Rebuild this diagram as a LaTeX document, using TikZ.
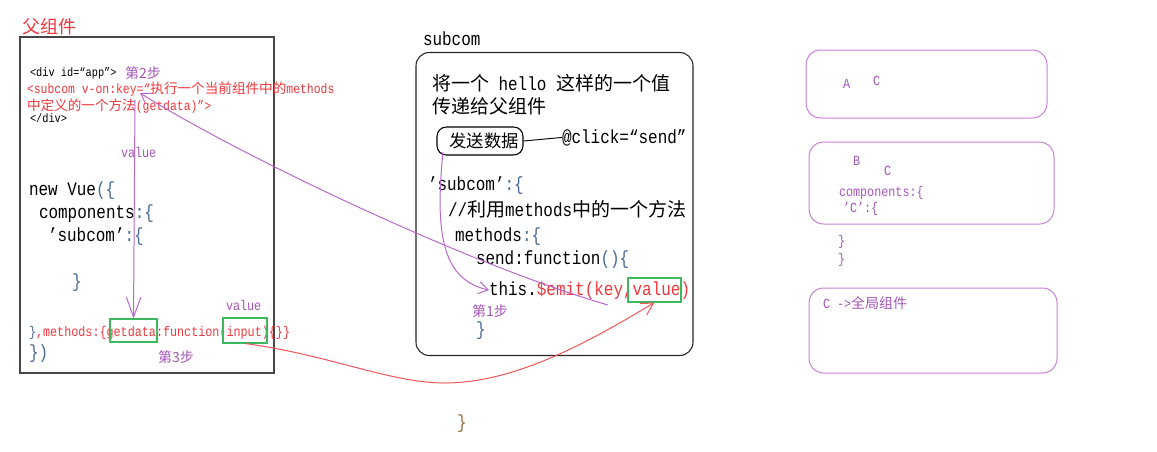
\documentclass[tikz,border=0pt]{standalone}
\usepackage{fontspec}
\setmainfont{Liberation Mono}[FakeStretch=0.84]
\newfontfamily\cjk{Noto Sans CJK SC}
\usetikzlibrary{arrows.meta}

\definecolor{cred}{RGB}{240,55,60}
\definecolor{cpur}{RGB}{165,85,185}
\definecolor{cline}{RGB}{185,105,205}
\definecolor{cpl}{RGB}{200,130,215}
\definecolor{cgrn}{RGB}{60,185,95}
\definecolor{cbrk}{RGB}{70,105,150}
\definecolor{cbor}{RGB}{70,70,70}
\definecolor{cbrown}{RGB}{150,110,70}

\newcommand{\zh}[1]{{\cjk #1}}
\newcommand{\fbig}{\fontsize{14.25pt}{17pt}\selectfont}
\newcommand{\fttl}{\fontsize{13.5pt}{16pt}\selectfont}
\newcommand{\fbtn}{\fontsize{13pt}{15pt}\selectfont}
\newcommand{\fmid}{\fontsize{10.5pt}{12pt}\selectfont}
\newcommand{\fsm}{\fontsize{10.2pt}{12pt}\selectfont}
\newcommand{\fdiv}{\fontsize{9.2pt}{11pt}\selectfont}
\newcommand{\bk}[1]{\textcolor{cbrk}{#1}}

\tikzset{
  txt/.style={anchor=base west, inner sep=0pt, outer sep=0pt},
  bigt/.style={txt, font=\fbig, text=black},
  midt/.style={txt, font=\fmid},
  purt/.style={txt, font=\fmid, text=cpur},
  gbox/.style={draw=cgrn, line width=0.8pt, inner sep=0pt},
  pbox/.style={draw=cpl, line width=0.75pt, rounded corners=11pt, inner sep=0pt},
  parrow/.style={draw=cline, line width=0.75pt, -{Straight Barb[length=7pt,width=9pt]}},
  rarrow/.style={draw=cred!85, line width=0.75pt, -{Straight Barb[length=9pt,width=10pt]}}
}

\begin{document}
\begin{tikzpicture}[x=0.75pt,y=-0.75pt]
\useasboundingbox[fill=white] (0,0) rectangle (1157,451);

% ---------- parent component ----------
\node[txt, font=\fttl, text=cred] (title) at (22,33) {\zh{父组件}};
\node[draw=cbor, line width=0.9pt, inner sep=0pt,
      minimum width=254*0.75pt, minimum height=336*0.75pt] (parent) at (147,205) {};

\node[txt, font=\fdiv] (divopen) at (30,76) {<div id=“app”>};
\node[purt] (step2) at (125,78) {\zh{第2步}};
\node[txt, font=\fsm, text=cred] (sub1) at (27,93) {<subcom v-on:key=“\zh{执行一个当前组件中的}methods};
\node[txt, font=\fsm, text=cred] (sub2) at (27,110) {\zh{中定义的一个方法}(getdata)”>};
\node[txt, font=\fdiv] (divclose) at (30,122) {</div>};
\node[purt] (val1) at (121,157) {value};

\node[bigt] (nv) at (29,195) {new Vue\bk{(\{}};
\node[bigt] (comp) at (39,218) {components\bk{:\{}};
\node[bigt] (subk) at (48,241) {’subcom’\bk{:\{}};
\node[bigt] (cl1) at (72,287) {\bk{\}}};
\node[purt] (val2) at (226,310) {value};
\node[midt, text=cred] (meth) at (29,336) {\bk{\}},methods:\{getdata:function(input)\{\}\}};
\node[gbox, minimum width=47*0.75pt, minimum height=23*0.75pt] (gd) at (133.5,330.5) {};
\node[gbox, minimum width=44*0.75pt, minimum height=25*0.75pt] (inp) at (245,330.5) {};
\node[bigt] (cl2) at (29,358) {\bk{\})}};
\node[purt] (step3) at (158,362) {\zh{第3步}};

% ---------- subcom ----------
\node[txt, font=\fbig] (sublabel) at (423,45) {subcom};
\node[draw=black!85, line width=0.8pt, rounded corners=10pt, inner sep=0pt,
      minimum width=277*0.75pt, minimum height=303*0.75pt] (subbox) at (554.5,204) {};
\node[bigt] (hello) at (432,90) {\zh{将一个} hello \zh{这样的一个值}};
\node[bigt] (pass) at (432,113) {\zh{传递给父组件}};
\node[draw=black, line width=0.8pt, rounded corners=7pt, inner sep=0pt,
      minimum width=86*0.75pt, minimum height=28*0.75pt, font=\fbtn]
      (send) at (480,141) {\hspace{6pt}\zh{发送数据}};
\node[bigt] (click) at (562,143) {@click=“send”};
\node[bigt] (subk2) at (428,190) {’subcom’\bk{:\{}};
\node[bigt] (cmt) at (448,216) {//\zh{利用}methods\zh{中的一个方法}};
\node[bigt] (meth2) at (455,241) {methods\bk{:\{}};
\node[bigt] (sendfn) at (476,264) {send:function\bk{()\{}};
\node[bigt] (emit) at (489,295) {this.\textcolor{cred}{\$emit(key,value)}};
\node[gbox, minimum width=53*0.75pt, minimum height=24*0.75pt] (valbox) at (654.5,290) {};
\node[purt] (step1) at (472,316) {\zh{第1步}};
\node[bigt] (cl3) at (476,335) {\bk{\}}};

\node[txt, font=\fbig, text=cbrown] (cl4) at (457,428) {\}};

% ---------- right boxes ----------
\node[pbox, minimum width=241*0.75pt, minimum height=68*0.75pt] (boxA) at (926.5,84) {};
\node[purt] (tA) at (843,88) {A};
\node[purt] (tAC) at (873,85) {C};
\node[pbox, minimum width=245*0.75pt, minimum height=82*0.75pt] (boxB) at (931.5,183) {};
\node[purt] (tB) at (853,165) {B};
\node[purt] (tBC) at (884,175) {C};
\node[purt] (tcomp) at (839,196) {components:\{};
\node[purt] (tCk) at (843,212) {’C’:\{};
\node[purt] (tc1) at (838,245) {\}};
\node[purt] (tc2) at (838,263) {\}};
\node[pbox, minimum width=248*0.75pt, minimum height=85*0.75pt] (boxC) at (933,330.5) {};
\node[purt] (tglob) at (823,308) {C ->\zh{全局组件}};

% ---------- connectors ----------
\coordinate (vtop) at (135,100);
\coordinate (keytip) at (140,93);
\coordinate (emitend) at (608,305);
\coordinate (sendstart) at (443,152);
\coordinate (redlow) at (445,383);

\draw[draw=black, line width=0.7pt] (send.east) -- (click.west);

\draw[parrow, -{Straight Barb[length=15pt,width=11pt]}] (vtop) -- (gd.north);
\draw[parrow] (emitend) .. controls (460,262) and (230,150) .. (keytip);
\draw[parrow] (sendstart) .. controls (434,240) and (445,280) .. (emit.west);

\draw[draw=cred!85, line width=0.75pt] (inp.south) .. controls (330,355) and (390,383) .. (redlow);
\draw[rarrow] (redlow) .. controls (520,383) and (600,335) .. (valbox.south);
\end{tikzpicture}
\end{document}
